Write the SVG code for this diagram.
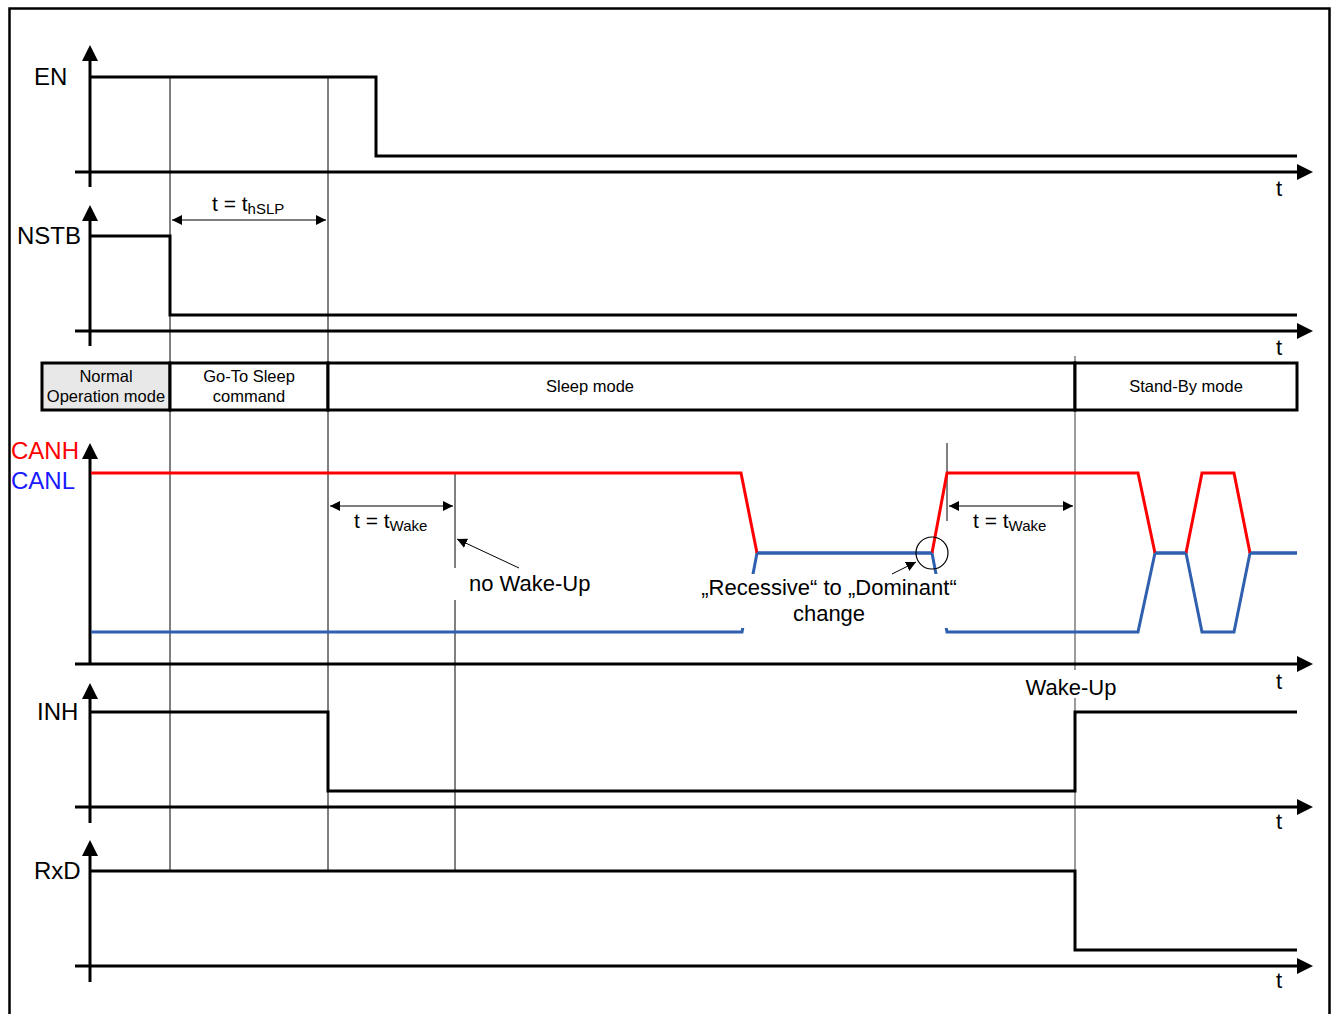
<svg xmlns="http://www.w3.org/2000/svg" width="1333" height="1014" viewBox="0 0 1333 1014">
<style>
.sig{fill:none;stroke:#000;stroke-width:3;stroke-linejoin:miter}
.ax{fill:none;stroke:#000;stroke-width:3}
.thin{fill:none;stroke:#000;stroke-width:1}
.gray{fill:none;stroke:#666;stroke-width:1.3}
.dim{fill:none;stroke:#555;stroke-width:1.5}
.red{fill:none;stroke:#ff0000;stroke-width:3}
.blue{fill:none;stroke:#2f5faf;stroke-width:3}
.lbl{font-family:"Liberation Sans",Arial,sans-serif;font-size:24px;fill:#000}
.t{font-family:"Liberation Sans",Arial,sans-serif;font-size:22px;fill:#000}
.mode{font-family:"Liberation Sans",Arial,sans-serif;font-size:16.5px;fill:#000;text-anchor:middle}
.note{font-family:"Liberation Sans",Arial,sans-serif;font-size:22px;fill:#000}
.dt{font-family:"Liberation Sans",Arial,sans-serif;font-size:21px;fill:#000}
.sub{font-size:15px}
</style>
<defs>
<marker id="ah" viewBox="0 0 10 10" refX="10" refY="5" markerWidth="10" markerHeight="10" markerUnits="userSpaceOnUse" orient="auto-start-reverse">
<path d="M0,0 L10,5 L0,10 Z" fill="#000"/>
</marker>
</defs>
<rect x="0" y="0" width="1333" height="1014" fill="#fff"/>
<rect x="9.5" y="8.5" width="1320" height="1030" fill="none" stroke="#000" stroke-width="2.5"/>

<g id="guides">
<line class="thin" x1="170" y1="77" x2="170" y2="871"/>
<line class="thin" x1="328" y1="77" x2="328" y2="871"/>
<line class="thin" x1="455" y1="473" x2="455" y2="568"/>
<line class="thin" x1="455" y1="600" x2="455" y2="871"/>
<line class="thin" x1="947" y1="443" x2="947" y2="521"/>
<line class="gray" x1="1075" y1="356" x2="1075" y2="670"/>
<line class="gray" x1="1075" y1="698" x2="1075" y2="950"/>
</g>

<g id="axes">
<g id="axis-EN">
<line class="ax" x1="90" y1="58" x2="90" y2="187"/>
<polygon points="82,61 90,45 98,61"/>
<line class="ax" x1="75" y1="172" x2="1300" y2="172"/>
<polygon points="1297,164 1313,172 1297,180"/>
</g>
<g id="axis-NSTB">
<line class="ax" x1="90" y1="218" x2="90" y2="346"/>
<polygon points="82,221 90,205 98,221"/>
<line class="ax" x1="75" y1="331" x2="1300" y2="331"/>
<polygon points="1297,323 1313,331 1297,339"/>
</g>
<g id="axis-CAN">
<line class="ax" x1="90" y1="456" x2="90" y2="665"/>
<polygon points="82,459 90,443 98,459"/>
<line class="ax" x1="75" y1="664" x2="1300" y2="664"/>
<polygon points="1297,656 1313,664 1297,672"/>
</g>
<g id="axis-INH">
<line class="ax" x1="90" y1="696" x2="90" y2="823"/>
<polygon points="82,699 90,683 98,699"/>
<line class="ax" x1="75" y1="807" x2="1300" y2="807"/>
<polygon points="1297,799 1313,807 1297,815"/>
</g>
<g id="axis-RxD">
<line class="ax" x1="90" y1="853" x2="90" y2="982"/>
<polygon points="82,856 90,840 98,856"/>
<line class="ax" x1="75" y1="966" x2="1300" y2="966"/>
<polygon points="1297,958 1313,966 1297,974"/>
</g>
</g>

<g id="signals">
<polyline id="sig-EN" class="sig" points="91,77 376,77 376,156 1297,156"/>
<polyline id="sig-NSTB" class="sig" points="91,236 170,236 170,315 1297,315"/>
<polyline id="sig-INH" class="sig" points="91,712 328,712 328,791 1075,791 1075,712 1297,712"/>
<polyline id="sig-RxD" class="sig" points="91,871 1075,871 1075,950 1297,950"/>
<polyline id="sig-CANL" class="blue" points="91,632 742,632 757,553 932,553 947,632 1138,632 1155,553 1186,553 1202,632 1234,632 1250,553 1297,553"/>
<g id="sig-CANH">
<polyline class="red" points="91,473 741,473 757,553"/>
<polyline class="red" points="932,553 947,473 1138,473 1155,553"/>
<polyline class="red" points="1186,553 1202,473 1234,473 1250,553"/>
</g>
<line class="blue" x1="757" y1="553" x2="932" y2="553"/>
<line class="blue" x1="1155" y1="553" x2="1186" y2="553"/>
<line class="blue" x1="1250" y1="553" x2="1297" y2="553"/>
</g>

<g id="mode-bar">
<g id="mode-normal">
<rect x="42" y="363" width="128" height="47" fill="#e8e8e8" stroke="#000" stroke-width="3"/>
<text class="mode" x="106" y="382">Normal</text>
<text class="mode" x="106" y="402">Operation mode</text>
</g>
<g id="mode-gts">
<rect x="170" y="363" width="158" height="47" fill="#fff" stroke="#000" stroke-width="3"/>
<text class="mode" x="249" y="382">Go-To Sleep</text>
<text class="mode" x="249" y="402">command</text>
</g>
<g id="mode-sleep">
<rect x="328" y="363" width="747" height="47" fill="#fff" stroke="#000" stroke-width="3"/>
<text class="mode" x="590" y="392">Sleep mode</text>
</g>
<g id="mode-standby">
<rect x="1075" y="363" width="222" height="47" fill="#fff" stroke="#000" stroke-width="3"/>
<text class="mode" x="1186" y="392">Stand-By mode</text>
</g>
</g>

<g id="labels">
<text class="lbl" x="34" y="85">EN</text>
<text class="lbl" x="17" y="244">NSTB</text>
<text class="lbl" x="11" y="459" style="fill:#ff0000">CANH</text>
<text class="lbl" x="11" y="489" style="fill:#1a1aff">CANL</text>
<text class="lbl" x="37" y="720">INH</text>
<text class="lbl" x="34" y="879">RxD</text>
<text class="t" x="1276" y="196">t</text>
<text class="t" x="1276" y="355">t</text>
<text class="t" x="1276" y="689">t</text>
<text class="t" x="1276" y="829">t</text>
<text class="t" x="1276" y="988">t</text>
</g>

<g id="connectors">
<line class="dim" x1="172" y1="220" x2="326" y2="220" marker-start="url(#ah)" marker-end="url(#ah)"/>
<line class="dim" x1="330" y1="506" x2="453" y2="506" marker-start="url(#ah)" marker-end="url(#ah)"/>
<line class="dim" x1="949" y1="506" x2="1073" y2="506" marker-start="url(#ah)" marker-end="url(#ah)"/>
<line class="thin" x1="519" y1="568" x2="457" y2="539" marker-end="url(#ah)"/>
<circle cx="932" cy="553" r="16" fill="none" stroke="#000" stroke-width="1.2"/>
</g>

<g id="annotations">
<text class="dt" x="212" y="211">t = t<tspan class="sub" dy="3">hSLP</tspan></text>
<text class="dt" x="354" y="528">t = t<tspan class="sub" dy="3">Wake</tspan></text>
<text class="dt" x="973" y="528">t = t<tspan class="sub" dy="3">Wake</tspan></text>
<text class="note" x="469" y="591">no Wake-Up</text>
<rect x="692" y="574" width="275" height="54" fill="#fff"/>
<line class="thin" x1="892" y1="574" x2="916" y2="562" marker-end="url(#ah)"/>
<text class="note" x="829" y="595" text-anchor="middle">„Recessive“ to „Dominant“</text>
<text class="note" x="829" y="621" text-anchor="middle">change</text>
<rect x="1022" y="671" width="98" height="26" fill="#fff"/>
<text class="note" x="1071" y="695" text-anchor="middle">Wake-Up</text>
</g>
</svg>
